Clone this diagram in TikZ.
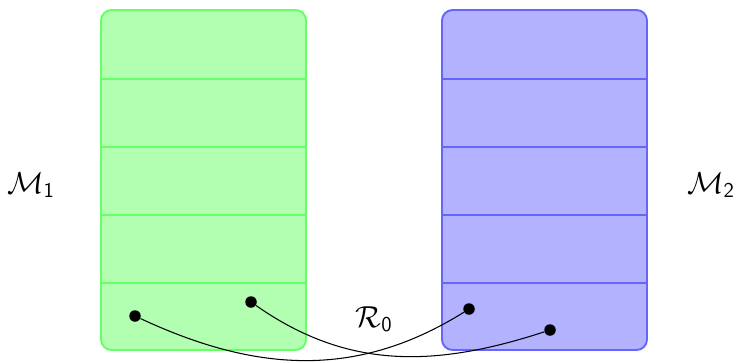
\documentclass[tikz,border=0pt]{standalone}
\usepackage{amsmath}
\tikzset{
  membox/.style={draw, line width=1.1pt, rounded corners=6pt, minimum width=4.1cm, minimum height=6.8cm, inner sep=0pt},
  dot/.style={circle, fill=black, inner sep=0pt, minimum size=0.23cm},
  lbl/.style={font=\LARGE}
}
\begin{document}
\begin{tikzpicture}
	\useasboundingbox (0,0) rectangle (14.76,7.24);

	\node[membox, draw=green!60, fill=green!30] (m1) at (4.07,3.64) {};
	\node[membox, draw=blue!60, fill=blue!30] (m2) at (10.89,3.64) {};
	\foreach \i in {1,...,4} {
		\draw[green!60, line width=0.8pt] ([yshift=\i*1.36cm]m1.south west) -- ([yshift=\i*1.36cm]m1.south east);
		\draw[blue!60, line width=0.8pt] ([yshift=\i*1.36cm]m2.south west) -- ([yshift=\i*1.36cm]m2.south east);
	}

	\node[lbl] (l1) at (0.62,3.54) {$\mathcal{M}_{\mathsf{1}}$};
	\node[lbl] (l2) at (14.22,3.54) {$\mathcal{M}_{\mathsf{2}}$};
	\node[lbl] (r0) at (7.48,0.86) {$\mathcal{R}_{\mathsf{0}}$};

	\node[dot] (a1) at (2.7,0.92) {};
	\node[dot] (a2) at (5.02,1.2) {};
	\node[dot] (b1) at (9.38,1.06) {};
	\node[dot] (b2) at (11.0,0.64) {};

	\draw[semithick] (a1) to[out=-25, in=-148] (b1);
	\draw[semithick] (a2) to[out=-35, in=-162] (b2);
\end{tikzpicture}
\end{document}
